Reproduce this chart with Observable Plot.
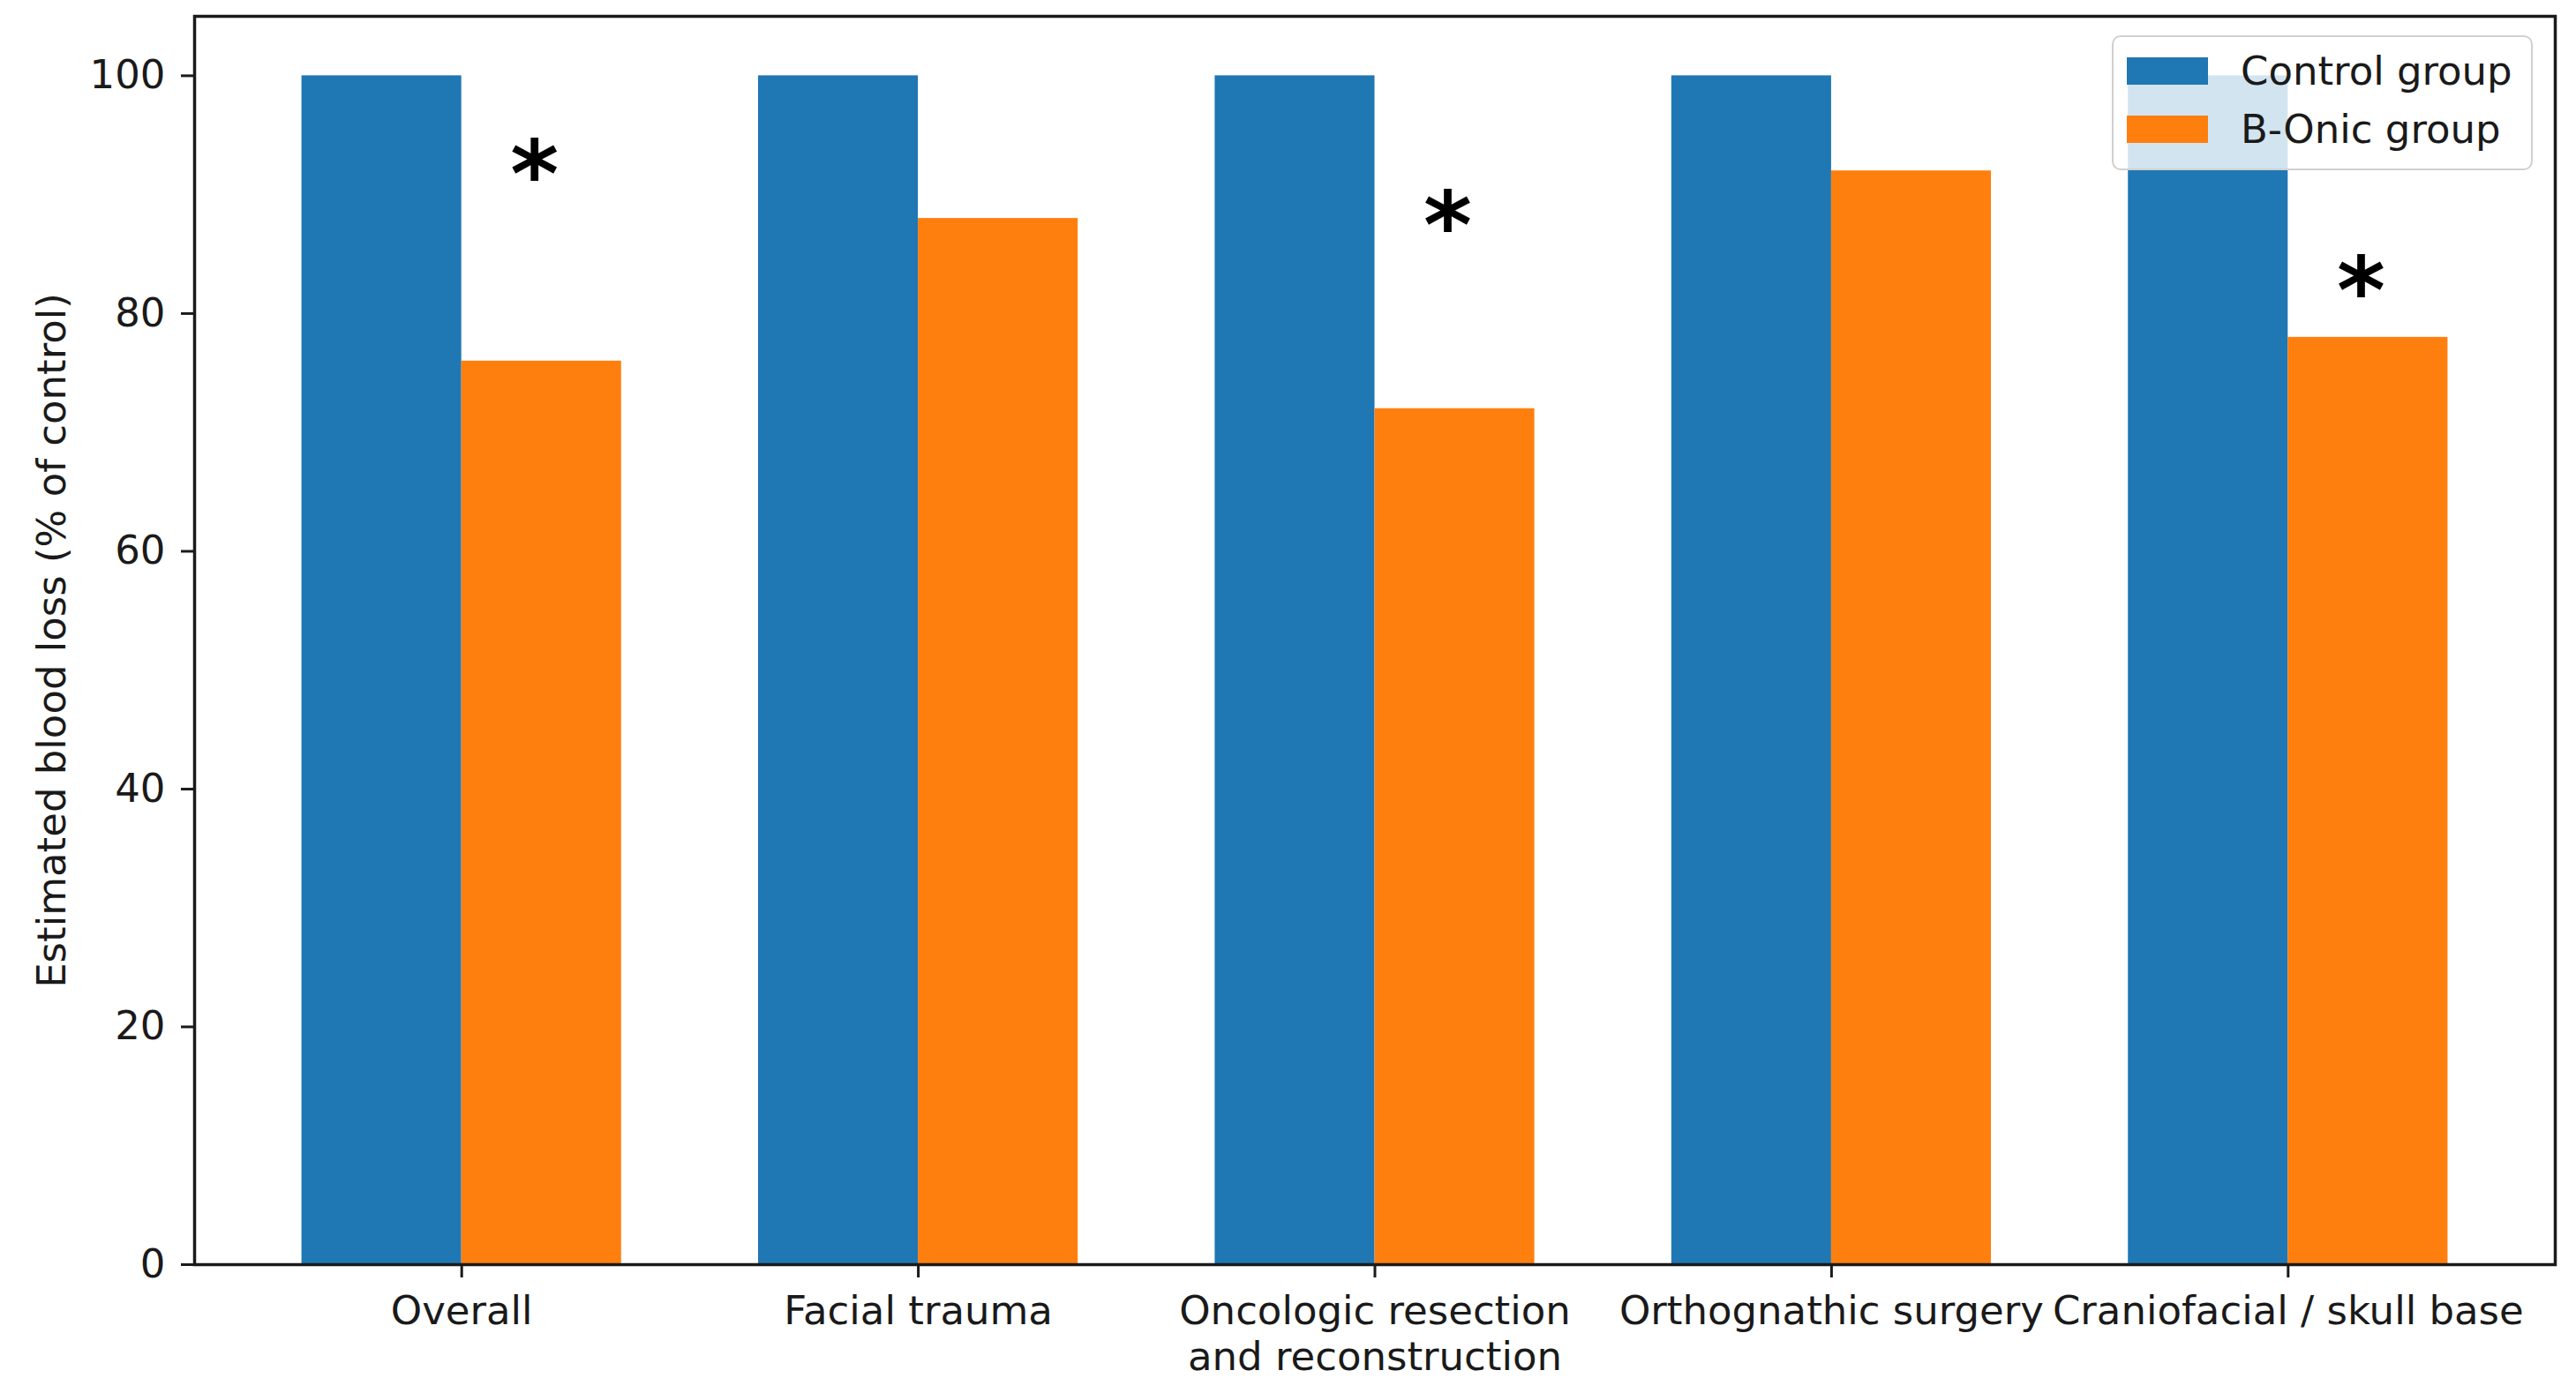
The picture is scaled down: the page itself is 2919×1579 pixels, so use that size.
<!DOCTYPE html>
<html>
<head>
<meta charset="utf-8">
<script src="https://cdn.jsdelivr.net/npm/d3@7"></script>
<script src="https://cdn.jsdelivr.net/npm/@observablehq/plot@0.6"></script>
<style>
  html, body { margin: 0; padding: 0; background: #fff; }
  #wrap { position: relative; width: 2919px; height: 1579px; font-family: "DejaVu Sans", sans-serif; }
  #legend {
    position: absolute; left: 2393px; top: 40px; width: 477px; height: 153px;
    box-sizing: border-box; background: rgba(255,255,255,0.8);
    border: 2px solid #d0d0d0; border-radius: 10px;
  }
  .item { position: absolute; left: 15px; height: 60px; display: flex; align-items: center; }
  .swatch { width: 92px; height: 31px; margin-right: 37px; }
  .label { font-size: 45px; color: #1a1a1a; white-space: nowrap; }
</style>
</head>
<body>
<div id="wrap"></div>
<script>
const categories = ["Overall", "Facial trauma", "Oncologic resection\nand reconstruction", "Orthognathic surgery", "Craniofacial / skull base"];
const seriesNames = ["Control group", "B-Onic group"];
const seriesColors = ["#1f77b4", "#ff7f0e"];
const controlValues = [100, 100, 100, 100, 100];
const bonicValues = [76, 88, 72, 92, 78];
const starLevels = [93, null, 88.7, null, 83.2];
const yTicks = [0, 20, 40, 60, 80, 100];
const yLabel = "Estimated blood loss (% of control)";

const barWidth = 0.35;
const rows = [];
categories.forEach((c, i) => {
  rows.push({series: seriesNames[0], x1: i - barWidth, x2: i, value: controlValues[i]});
  rows.push({series: seriesNames[1], x1: i, x2: i + barWidth, value: bonicValues[i]});
});
const stars = starLevels.map((v, i) => ({x: i + barWidth / 2, y: v})).filter(d => d.y != null);

const chart = Plot.plot({
  width: 2919,
  height: 1579,
  marginLeft: 220,
  marginRight: 24,
  marginTop: 18,
  marginBottom: 146,
  style: {fontFamily: "DejaVu Sans", fontSize: "45px", color: "#1a1a1a", background: "#fff"},
  x: {type: "linear", domain: [-0.585, 4.585]},
  y: {domain: [0, 105]},
  color: {domain: seriesNames, range: seriesColors},
  marks: [
    Plot.rectY(rows, {x1: "x1", x2: "x2", y1: 0, y2: "value", fill: "series"}),
    Plot.text(stars, {x: "x", y: "y", text: () => "*", fontSize: 105, fontWeight: "bold", fill: "#000",
      lineAnchor: "middle", dy: 20, dx: -8}),
    Plot.frame({stroke: "#1a1a1a", strokeWidth: 3.5}),
    Plot.axisY({ticks: yTicks, tickSize: 15, tickPadding: 18, strokeWidth: 3,
      label: yLabel, labelAnchor: "center", labelArrow: "none", labelOffset: 178}),
    Plot.axisX({ticks: [0, 1, 2, 3, 4], tickFormat: i => categories[i], tickSize: 15, tickPadding: 16,
      strokeWidth: 3, lineHeight: 1.15, label: null})
  ]
});

const wrap = document.getElementById("wrap");
wrap.appendChild(chart);

const legend = document.createElement("div");
legend.id = "legend";
seriesNames.forEach((name, k) => {
  const item = document.createElement("div");
  item.className = "item";
  item.style.top = (k === 0 ? 8 : 74) + "px";
  const sw = document.createElement("div");
  sw.className = "swatch";
  sw.style.background = seriesColors[k];
  const lb = document.createElement("span");
  lb.className = "label";
  lb.textContent = name;
  item.appendChild(sw);
  item.appendChild(lb);
  legend.appendChild(item);
});
wrap.appendChild(legend);
</script>
</body>
</html>
